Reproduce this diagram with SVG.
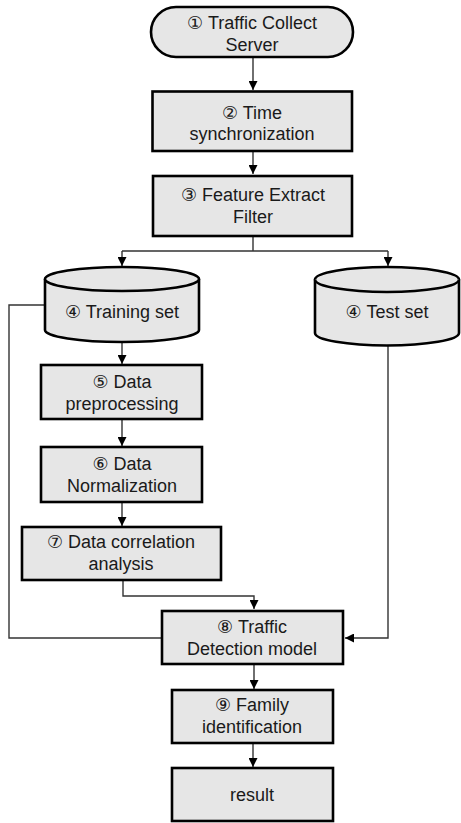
<svg xmlns="http://www.w3.org/2000/svg" width="461" height="823" viewBox="0 0 461 823">
<defs>
<style>
.n{fill:#e6e6e6;stroke:#000;stroke-width:2.6}
.c{fill:none;stroke:#333;stroke-width:1.4}
.t{font-family:"Liberation Sans","DejaVu Sans",sans-serif;font-size:18px;fill:#1a1a1a;text-anchor:middle}
</style>
<marker id="ah" viewBox="0 0 10 10" refX="10" refY="5" markerWidth="9" markerHeight="9" markerUnits="userSpaceOnUse" orient="auto">
<path d="M0,0 L10,5 L0,10 Z" fill="#000"/>
</marker>
</defs>
<rect width="461" height="823" fill="#fff"/>
<g id="connectors">
<path class="c" d="M253,57 V90" marker-end="url(#ah)"/>
<path class="c" d="M253,151 V174" marker-end="url(#ah)"/>
<path class="c" d="M253,236 V251 M122,251 H388"/>
<path class="c" d="M122,251 V266" marker-end="url(#ah)"/>
<path class="c" d="M388,251 V266" marker-end="url(#ah)"/>
<path class="c" d="M122,342 V364" marker-end="url(#ah)"/>
<path class="c" d="M122,419 V446" marker-end="url(#ah)"/>
<path class="c" d="M122,502 V526" marker-end="url(#ah)"/>
<path class="c" d="M123,580 V596 H254 V609" marker-end="url(#ah)"/>
<path class="c" d="M388,345 V638 H345" marker-end="url(#ah)"/>
<path class="c" d="M44,305 H9 V638 H162"/>
<path class="c" d="M254,664 V689" marker-end="url(#ah)"/>
<path class="c" d="M253,743 V767" marker-end="url(#ah)"/>
</g>
<g id="n1">
<rect class="n" x="151" y="7" width="202" height="50" rx="25" ry="25"/>
<text class="t" x="252" y="29">① Traffic Collect</text>
<text class="t" x="252" y="51">Server</text>
</g>
<g id="n2">
<rect class="n" x="152.5" y="91.5" width="199.5" height="59.5"/>
<text class="t" x="252" y="119">② Time</text>
<text class="t" x="252" y="140">synchronization</text>
</g>
<g id="n3">
<rect class="n" x="153" y="176" width="199" height="60"/>
<text class="t" x="253" y="201">③ Feature Extract</text>
<text class="t" x="253" y="223">Filter</text>
</g>
<g id="n4a">
<path class="n" d="M45,279 V330 A77,12 0 0 0 199,330 V279 A77,12 0 0 0 45,279 Z"/>
<path class="n" d="M45,279 A77,12 0 0 0 199,279" fill="none"/>
<text class="t" x="122" y="318">④ Training set</text>
</g>
<g id="n4b">
<path class="n" d="M315,279.5 V333 A72,12.5 0 0 0 459,333 V279.5 A72,12.5 0 0 0 315,279.5 Z"/>
<path class="n" d="M315,279.5 A72,12.5 0 0 0 459,279.5" fill="none"/>
<text class="t" x="387" y="318">④ Test set</text>
</g>
<g id="n5">
<rect class="n" x="41" y="365" width="161" height="54"/>
<text class="t" x="122" y="388">⑤ Data</text>
<text class="t" x="122" y="410">preprocessing</text>
</g>
<g id="n6">
<rect class="n" x="41" y="447" width="161" height="55"/>
<text class="t" x="122" y="470">⑥ Data</text>
<text class="t" x="122" y="492">Normalization</text>
</g>
<g id="n7">
<rect class="n" x="22" y="527" width="199" height="53"/>
<text class="t" x="121" y="548">⑦ Data correlation</text>
<text class="t" x="121" y="570">analysis</text>
</g>
<g id="n8">
<rect class="n" x="162" y="611" width="181" height="53"/>
<text class="t" x="252" y="633">⑧ Traffic</text>
<text class="t" x="252" y="655">Detection model</text>
</g>
<g id="n9">
<rect class="n" x="172" y="690" width="161" height="53"/>
<text class="t" x="252" y="711">⑨ Family</text>
<text class="t" x="252" y="733">identification</text>
</g>
<g id="n10">
<rect class="n" x="172" y="768" width="161" height="53"/>
<text class="t" x="252" y="801">result</text>
</g>
</svg>
